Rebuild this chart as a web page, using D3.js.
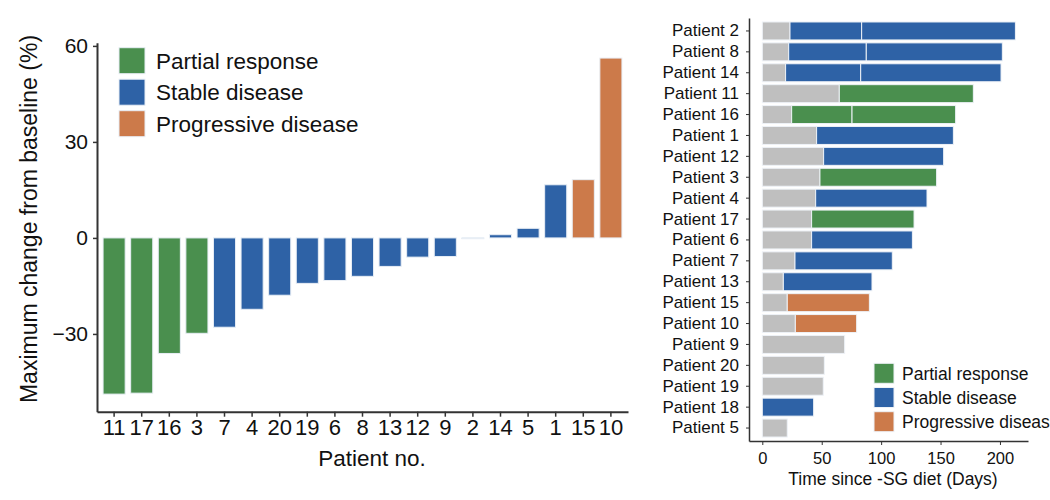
<!DOCTYPE html>
<html>
<head>
<meta charset="utf-8">
<script src="https://cdn.jsdelivr.net/npm/d3@7"></script>
<style>
  html, body { margin: 0; padding: 0; background: #fff; overflow: hidden; }
  svg { display: block; font-family: Arial, "Liberation Sans", sans-serif; }
</style>
</head>
<body>
<svg id="chart" width="1050" height="500"></svg>
<script>
// ---------- Data: waterfall (left) ----------
const waterPatients = ["11","17","16","3","7","4","20","19","6","8","13","12","9","2","14","5","1","15","10"];
const waterValues   = [-48.8,-48.5,-36.1,-29.8,-27.9,-22.3,-17.9,-14.2,-13.3,-12.0,-8.9,-6.0,-5.8,-0.2,1.0,3.0,16.6,18.2,56.2];
const waterResponse = ["PR","PR","PR","PR","SD","SD","SD","SD","SD","SD","SD","SD","SD","SD","SD","SD","SD","PD","PD"];
const waterTicks = [-30, 0, 30, 60];

// ---------- Data: swimmer (right) ----------
const swimPatients = ["Patient 2","Patient 8","Patient 14","Patient 11","Patient 16","Patient 1","Patient 12","Patient 3","Patient 4","Patient 17","Patient 6","Patient 7","Patient 13","Patient 15","Patient 10","Patient 9","Patient 20","Patient 19","Patient 18","Patient 5"];
const swimGreyEnd   = [23.3, 22.2, 19.6, 64.8, 24.7, 45.7, 51.6, 48.5, 44.9, 41.5, 41.5, 27.5, 17.7, 21.0, 27.8, 69.3, 52.2, 51.3, 0, 21.0];
const swimMidEnd    = [83.6, 87.5, 82.8, null, 75.5, null, null, null, null, null, null, null, null, null, null, null, null, null, null, null];
const swimEnd       = [213, 202, 200.9, 177.6, 162.7, 160.8, 152.6, 146.7, 138.6, 127.7, 126.3, 109.4, 92.3, 90.1, 79.4, 69.3, 52.2, 51.3, 43.2, 21.0];
const swimResponse  = ["SD","SD","SD","PR","PR","SD","SD","PR","SD","PR","SD","SD","SD","PD","PD",null,null,null,"SD",null];
const swimTicks = [0, 50, 100, 150, 200];

const legendKeys = ["PR","SD","PD"];
const legendLabels = ["Partial response","Stable disease","Progressive disease"];
const colors = {PR: "#4a8f4e", SD: "#2e62a6", PD: "#cc7a4a", grey: "#bfbfbf"};

const svg = d3.select("#chart");
const axisColor = "#333";
const FONT = "Arial, Liberation Sans, sans-serif";

// ================= LEFT CHART =================
const L = {left: 97, right: 628, top: 42.7, bottom: 411.7};
const xL = d3.scaleBand().domain(waterPatients).range([L.left, L.right]).paddingInner(0.2).paddingOuter(0.22);
const yL = d3.scaleLinear().domain([-54.3, 61]).range([L.bottom, L.top]);

const gL = svg.append("g");
gL.selectAll("rect.wbar").data(waterPatients).enter().append("rect")
  .attr("class","wbar")
  .attr("x", d => xL(d))
  .attr("width", xL.bandwidth())
  .attr("y", (d,i) => yL(Math.max(0, waterValues[i])))
  .attr("height", (d,i) => Math.max(0.8, Math.abs(yL(waterValues[i]) - yL(0))))
  .attr("fill", (d,i) => colors[waterResponse[i]])
  .attr("stroke", "#e8eef5").attr("stroke-width", 1);

const axL = gL.append("g").attr("transform", `translate(${L.left},0)`)
  .call(d3.axisLeft(yL).tickValues(waterTicks).tickSize(4).tickSizeOuter(0).tickFormat(d => d < 0 ? "\u2212" + Math.abs(d) : d));
axL.select(".domain").attr("stroke", axisColor).attr("stroke-width", 2);
axL.selectAll(".tick line").attr("stroke", axisColor).attr("stroke-width", 1.5);
axL.selectAll(".tick text").attr("font-size", 21).attr("fill", "#111").attr("x", -9).attr("font-family", FONT);

const axB = gL.append("g").attr("transform", `translate(0,${L.bottom})`)
  .call(d3.axisBottom(xL).tickSize(5).tickSizeOuter(0));
axB.select(".domain").attr("stroke", axisColor).attr("stroke-width", 2);
axB.selectAll(".tick line").attr("stroke", axisColor).attr("stroke-width", 1.5);
axB.selectAll(".tick text").attr("font-size", 22).attr("fill", "#111").attr("y", 8).attr("font-family", FONT);

gL.append("text").attr("x", 372).attr("y", 466).attr("text-anchor","middle")
  .attr("font-size", 22.5).attr("fill","#111").text("Patient no.");
gL.append("text").attr("transform", "translate(37,219) rotate(-90)").attr("text-anchor","middle")
  .attr("font-size", 23).attr("fill","#111").text("Maximum change from baseline (%)");

// left legend
const legL = gL.append("g");
legendKeys.forEach((k,i) => {
  legL.append("rect").attr("x", 119).attr("y", 47.7 + i*31.5).attr("width", 26).attr("height", 26)
    .attr("fill", colors[k]).attr("stroke","#e8eef5").attr("stroke-width",1);
  legL.append("text").attr("x", 156).attr("y", 68.5 + i*31.5).attr("font-size", 22.5).attr("fill","#111").text(legendLabels[i]);
});

// ================= RIGHT CHART =================
const R = {left: 749, right: 1028, top: 18, bottom: 441};
const xR = d3.scaleLinear().domain([-11.2, 223.6]).range([R.left, R.right]);
const yR = d3.scaleBand().domain(swimPatients).range([R.top, R.bottom]).paddingInner(0.14).paddingOuter(0.19);

const gR = svg.append("g");
const segs = [];
swimPatients.forEach((p,i) => {
  const g = swimGreyEnd[i];
  if (g > 0) segs.push({p, x0: 0, x1: g, c: colors.grey});
  if (swimResponse[i]) {
    if (swimMidEnd[i] != null) {
      segs.push({p, x0: g, x1: swimMidEnd[i], c: colors[swimResponse[i]]});
      segs.push({p, x0: swimMidEnd[i], x1: swimEnd[i], c: colors[swimResponse[i]]});
    } else {
      segs.push({p, x0: g, x1: swimEnd[i], c: colors[swimResponse[i]]});
    }
  }
});
gR.selectAll("rect.seg").data(segs).enter().append("rect")
  .attr("class","seg")
  .attr("x", d => xR(d.x0))
  .attr("width", d => xR(d.x1) - xR(d.x0))
  .attr("y", d => yR(d.p))
  .attr("height", yR.bandwidth())
  .attr("fill", d => d.c)
  .attr("stroke", "#eef2f7").attr("stroke-width", 1);

const axRL = gR.append("g").attr("transform", `translate(${R.left},0)`)
  .call(d3.axisLeft(yR).tickSize(3).tickSizeOuter(0));
axRL.select(".domain").attr("stroke", axisColor).attr("stroke-width", 1.5);
axRL.selectAll(".tick line").attr("stroke", axisColor).attr("stroke-width", 1);
axRL.selectAll(".tick text").attr("font-size", 17).attr("fill", "#111").attr("x", -10).attr("font-family", FONT);

const axRB = gR.append("g").attr("transform", `translate(0,${R.bottom})`)
  .call(d3.axisBottom(xR).tickValues(swimTicks).tickSize(4).tickSizeOuter(0));
axRB.select(".domain").attr("stroke", axisColor).attr("stroke-width", 1.5);
axRB.selectAll(".tick line").attr("stroke", axisColor).attr("stroke-width", 1);
axRB.selectAll(".tick text").attr("font-size", 16.5).attr("fill", "#111").attr("y", 11).attr("font-family", FONT);

gR.append("text").attr("x", 893).attr("y", 485).attr("text-anchor","middle")
  .attr("font-size", 17.5).attr("fill","#111").text("Time since -SG diet (Days)");

const legR = gR.append("g");
legendKeys.forEach((k,i) => {
  legR.append("rect").attr("x", 874).attr("y", 363.3 + i*24.2).attr("width", 20).attr("height", 20)
    .attr("fill", colors[k]).attr("stroke","#eef2f7").attr("stroke-width",1);
  legR.append("text").attr("x", 902).attr("y", 379.5 + i*24.2).attr("font-size", 17.5).attr("fill","#111").text(legendLabels[i]);
});
</script>
</body>
</html>
